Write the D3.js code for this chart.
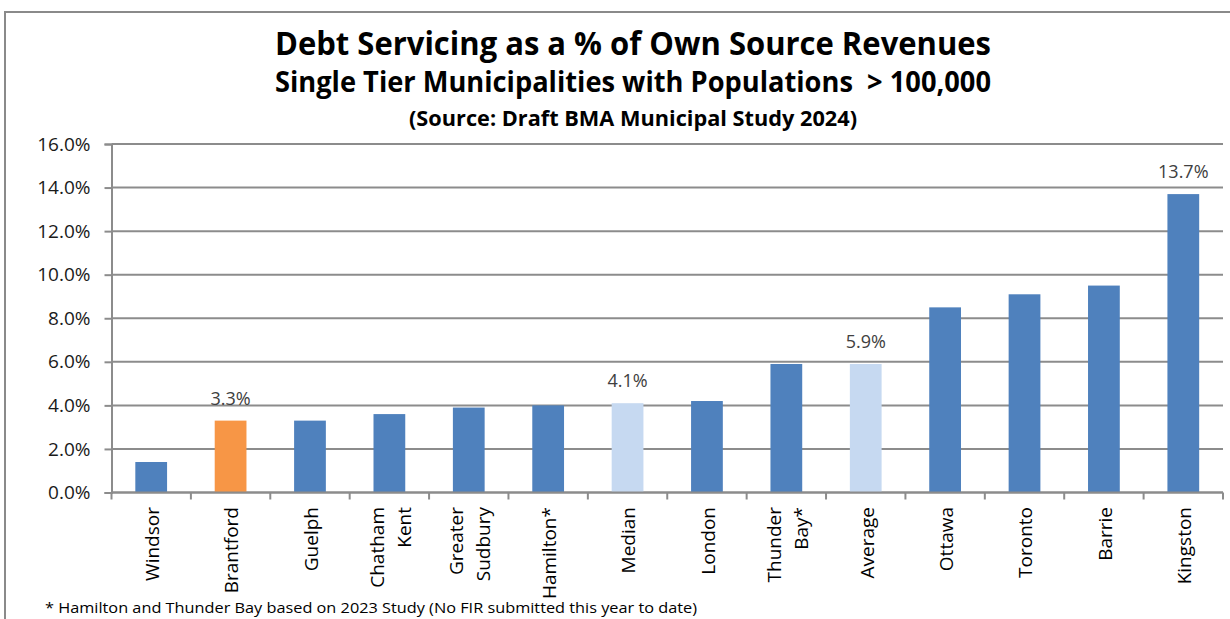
<!DOCTYPE html>
<html>
<head>
<meta charset="utf-8">
<script src="https://cdn.jsdelivr.net/npm/d3@7"></script>
<style>
  html, body { margin: 0; padding: 0; background: #fff; }
  svg { display: block; }
  text { font-family: "Open Sans", "Noto Sans", sans-serif; white-space: pre; }
</style>
</head>
<body>
<svg id="chart" width="1230" height="619"></svg>
<script>
// Debt servicing ratios (% of own source revenues), 2024 BMA study
const categories = ["Windsor", "Brantford", "Guelph", "Chatham Kent", "Greater Sudbury", "Hamilton*",
                    "Median", "London", "Thunder Bay*", "Average", "Ottawa", "Toronto", "Barrie", "Kingston"];
const categoryLines = [["Windsor"], ["Brantford"], ["Guelph"], ["Chatham", "Kent"], ["Greater", "Sudbury"],
                       ["Hamilton*"], ["Median"], ["London"], ["Thunder", "Bay*"], ["Average"],
                       ["Ottawa"], ["Toronto"], ["Barrie"], ["Kingston"]];
const values = [1.4, 3.3, 3.3, 3.6, 3.9, 4.0, 4.1, 4.2, 5.9, 5.9, 8.5, 9.1, 9.5, 13.7];
const highlighted = ["Brantford"];
const benchmarks = ["Median", "Average"];
const labelled = ["Brantford", "Median", "Average", "Kingston"];
const yTicks = [0, 2, 4, 6, 8, 10, 12, 14, 16];

const titleLines = ["Debt Servicing as a % of Own Source Revenues",
                    "Single Tier Municipalities with Populations  > 100,000",
                    "(Source: Draft BMA Municipal Study 2024)"];
const footnote = "* Hamilton and Thunder Bay based on 2023 Study (No FIR submitted this year to date)";

const svg = d3.select("#chart");
const gridColor = "#8c8c8c";

// Outer chart frame
svg.append("path")
  .attr("d", "M5,640 L5,12 L1240,12")
  .attr("fill", "none")
  .attr("stroke", "#8a8a8a")
  .attr("stroke-width", 2);

// Titles
const titleSpecs = [
  { y: 55, size: 33, weight: 700, len: 716 },
  { y: 92, size: 28, weight: 700, len: 716 },
  { y: 126, size: 21, weight: 700, len: 448 }
];
titleLines.forEach((t, i) => {
  const s = titleSpecs[i];
  svg.append("text")
    .attr("x", 633).attr("y", s.y)
    .attr("text-anchor", "middle")
    .attr("font-size", s.size)
    .attr("font-weight", s.weight)
    .attr("fill", "#000")
    .attr("textLength", s.len)
    .attr("lengthAdjust", "spacingAndGlyphs")
    .text(t);
});

// Scales
const x = d3.scaleBand()
  .domain(categories)
  .range([111.5, 1223])
  .paddingInner(0.6)
  .paddingOuter(0.3);

const y = d3.scaleLinear()
  .domain([0, 16])
  .range([492.5, 144]);

// Horizontal gridlines
svg.append("g")
  .selectAll("line")
  .data(yTicks)
  .join("line")
  .attr("x1", 111.5).attr("x2", 1223)
  .attr("y1", d => y(d)).attr("y2", d => y(d))
  .attr("stroke", gridColor)
  .attr("stroke-width", 2);

// Y axis
const yAxis = svg.append("g")
  .attr("transform", "translate(111.5,0)")
  .call(d3.axisLeft(y).tickValues(yTicks).tickSize(7).tickPadding(14)
    .tickFormat(d => d.toFixed(1) + "%"));
yAxis.select(".domain").attr("stroke", gridColor).attr("stroke-width", 2);
yAxis.selectAll(".tick line").attr("stroke", gridColor).attr("stroke-width", 2);
yAxis.selectAll(".tick text")
  .attr("font-size", 19)
  .attr("fill", "#1a1a1a")
  .attr("font-family", "'Open Sans', sans-serif");

// Bars
const fillFor = c => highlighted.includes(c) ? "#F79646"
                  : benchmarks.includes(c) ? "#C6D9F1" : "#4F81BD";
svg.append("g")
  .selectAll("rect")
  .data(categories.map((c, i) => ({ c, v: values[i] })))
  .join("rect")
  .attr("x", d => x(d.c))
  .attr("width", x.bandwidth())
  .attr("y", d => y(d.v))
  .attr("height", d => y(0) - y(d.v))
  .attr("fill", d => fillFor(d.c));

// X axis line and category ticks
const step = x.step();
const xAxis = svg.append("g");
xAxis.append("line")
  .attr("x1", 111.5).attr("x2", 1223)
  .attr("y1", y(0)).attr("y2", y(0))
  .attr("stroke", gridColor).attr("stroke-width", 2);
xAxis.selectAll("line.tick")
  .data(d3.range(categories.length + 1))
  .join("line")
  .attr("class", "tick")
  .attr("x1", i => 111.5 + i * step).attr("x2", i => 111.5 + i * step)
  .attr("y1", y(0)).attr("y2", y(0) + 7)
  .attr("stroke", gridColor).attr("stroke-width", 2);

// Rotated category labels
const catG = svg.append("g")
  .selectAll("g")
  .data(categories.map((c, i) => ({ c, lines: categoryLines[i] })))
  .join("g")
  .attr("transform", d => `translate(${x(d.c) + x.bandwidth() / 2 + 1},507) rotate(-90)`);
catG.selectAll("text")
  .data(d => d.lines.map((t, j) => ({ t, off: (j - (d.lines.length - 1) / 2) * 27 })))
  .join("text")
  .attr("x", 0)
  .attr("y", d => d.off)
  .attr("dy", "0.36em")
  .attr("text-anchor", "end")
  .attr("font-size", 19)
  .attr("fill", "#000")
  .text(d => d.t);

// Value labels
svg.append("g")
  .selectAll("text")
  .data(categories.map((c, i) => ({ c, v: values[i] })).filter(d => labelled.includes(d.c)))
  .join("text")
  .attr("x", d => x(d.c) + x.bandwidth() / 2)
  .attr("y", d => y(d.v) - 16)
  .attr("text-anchor", "middle")
  .attr("font-size", 18)
  .attr("fill", "#404040")
  .text(d => d.v.toFixed(1) + "%");

// Footnote
svg.append("text")
  .attr("x", 45).attr("y", 613)
  .attr("font-size", 15)
  .attr("fill", "#000")
  .attr("textLength", 652)
  .attr("lengthAdjust", "spacingAndGlyphs")
  .text(footnote);
</script>
</body>
</html>
